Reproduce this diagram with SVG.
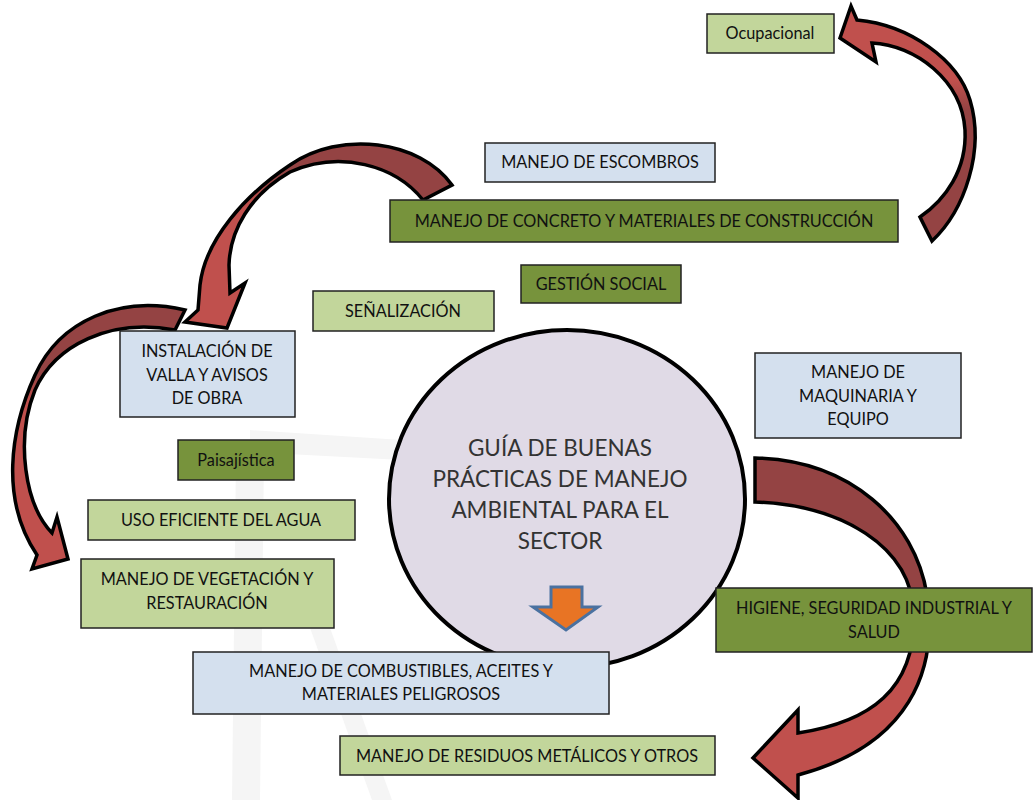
<svg xmlns="http://www.w3.org/2000/svg" width="1035" height="800" viewBox="0 0 1035 800">
<defs>
<style>
text{font-family:Lato,"Open Sans","Liberation Sans",sans-serif;fill:#111;text-anchor:middle}
.bt{font-size:16.3px}
.ct{font-size:22.5px;fill:#333}
.lg{fill:#c2d69b;stroke:#222;stroke-width:1.5}
.dg{fill:#77933c;stroke:#222;stroke-width:1.5}
.lb{fill:#d4e0ee;stroke:#222;stroke-width:1.5}
.arr{stroke:#000;stroke-width:3.5;stroke-linejoin:miter}
.wm{fill:#f5f5f5}
</style>
<linearGradient id="g1" gradientUnits="userSpaceOnUse" x1="0" y1="110" x2="0" y2="80"><stop offset="0" stop-color="#944343"/><stop offset="1" stop-color="#c0504d"/></linearGradient>
<linearGradient id="g2" gradientUnits="userSpaceOnUse" x1="250" y1="0" x2="272" y2="0"><stop offset="0" stop-color="#c0504d"/><stop offset="1" stop-color="#944343"/></linearGradient>
<linearGradient id="g3" gradientUnits="userSpaceOnUse" x1="0" y1="375" x2="0" y2="400"><stop offset="0" stop-color="#944343"/><stop offset="1" stop-color="#c0504d"/></linearGradient>
<linearGradient id="g4" gradientUnits="userSpaceOnUse" x1="0" y1="585" x2="0" y2="655"><stop offset="0" stop-color="#944343"/><stop offset="1" stop-color="#c0504d"/></linearGradient>
</defs>
<rect width="1035" height="800" fill="#fff"/>
<g id="watermark">
<path class="wm" d="M250,430 L402,440 L402,460 L250,452 Z"/>
<path class="wm" d="M236,455 L264,455 L260,800 L232,800 Z"/>
<path class="wm" d="M300,600 L320,600 L392,800 L372,800 Z"/>
</g>
<g id="connectors">
<path id="arrow-ocupacional" class="arr" fill="url(#g1)" d="M932,241 C965,210 985,150 970,100 C958,60 910,25 857,20 L851,6 L840,38 L876,62 L872,43 C915,45 962,80 965,130 C967,170 945,200 920,217 Z"/>
<path id="arrow-instalacion" class="arr" fill="url(#g2)" d="M452,185 C420,140 340,130 290,165 C245,195 205,240 200,285 L198,310 L185,322 L227,328 L245,283 L230,293 L229,265 C230,230 250,195 290,172 C340,150 395,165 423,200 Z"/>
<path id="arrow-vegetacion" class="arr" fill="url(#g3)" d="M185,310 C120,295 60,320 35,375 C10,430 0,500 37,555 L32,569 L68,559 L57,517 L52,533 C25,505 15,440 35,390 C55,345 110,318 175,330 Z"/>
<path id="arrow-residuos" class="arr" fill="url(#g4)" d="M755,458 C850,460 915,520 927,595 C938,670 910,745 798,775 L798,798 L753,758 L798,710 L798,733 C870,722 915,690 914,615 C912,545 840,505 755,502 Z"/>
</g>
<g id="center">
<ellipse cx="567" cy="499" rx="178" ry="169" fill="#e0dae6" stroke="#000" stroke-width="4"/>
<text class="ct" x="560" y="456">GUÍA DE BUENAS</text>
<text class="ct" x="560" y="487">PRÁCTICAS DE MANEJO</text>
<text class="ct" x="560" y="518">AMBIENTAL PARA EL</text>
<text class="ct" x="560" y="549">SECTOR</text>
<path d="M551,587 H582 V607 H598 L566,630 L533,607 H551 Z" fill="#e87424" stroke="#4a71a0" stroke-width="3"/>
</g>
<g id="n-ocupacional"><rect class="lg" x="707" y="14" width="127" height="39"/><text class="bt" x="770" y="39">Ocupacional</text></g>
<g id="n-escombros"><rect class="lb" x="485" y="143" width="230" height="39"/><text class="bt" x="600" y="168">MANEJO DE ESCOMBROS</text></g>
<g id="n-concreto"><rect class="dg" x="390" y="200" width="508" height="42"/><text class="bt" x="644" y="227">MANEJO DE CONCRETO Y MATERIALES DE CONSTRUCCIÓN</text></g>
<g id="n-gestion"><rect class="dg" x="521" y="265" width="160" height="38"/><text class="bt" x="601" y="290">GESTIÓN SOCIAL</text></g>
<g id="n-senalizacion"><rect class="lg" x="313" y="291" width="181" height="40"/><text class="bt" x="403" y="317">SEÑALIZACIÓN</text></g>
<g id="n-instalacion"><rect class="lb" x="120" y="331" width="175" height="86"/><text class="bt" x="207" y="357">INSTALACIÓN DE</text><text class="bt" x="207" y="381">VALLA Y AVISOS</text><text class="bt" x="207" y="404">DE OBRA</text></g>
<g id="n-maquinaria"><rect class="lb" x="755" y="353" width="206" height="85"/><text class="bt" x="858" y="378">MANEJO DE</text><text class="bt" x="858" y="402">MAQUINARIA Y</text><text class="bt" x="858" y="425">EQUIPO</text></g>
<g id="n-paisajistica"><rect class="dg" x="178" y="440" width="116" height="40"/><text class="bt" x="236" y="466">Paisajística</text></g>
<g id="n-agua"><rect class="lg" x="88" y="500" width="267" height="40"/><text class="bt" x="221" y="526">USO EFICIENTE DEL AGUA</text></g>
<g id="n-vegetacion"><rect class="lg" x="81" y="559" width="253" height="69"/><text class="bt" x="207" y="585">MANEJO DE VEGETACIÓN Y</text><text class="bt" x="207" y="609">RESTAURACIÓN</text></g>
<g id="n-higiene"><rect class="dg" x="716" y="588" width="316" height="64"/><text class="bt" x="874" y="614">HIGIENE, SEGURIDAD INDUSTRIAL Y</text><text class="bt" x="874" y="638">SALUD</text></g>
<g id="n-combustibles"><rect class="lb" x="193" y="652" width="416" height="62"/><text class="bt" x="401" y="677">MANEJO DE COMBUSTIBLES, ACEITES Y</text><text class="bt" x="401" y="700">MATERIALES PELIGROSOS</text></g>
<g id="n-residuos"><rect class="lg" x="340" y="736" width="375" height="39"/><text class="bt" x="527" y="762">MANEJO DE RESIDUOS METÁLICOS Y OTROS</text></g>
</svg>
